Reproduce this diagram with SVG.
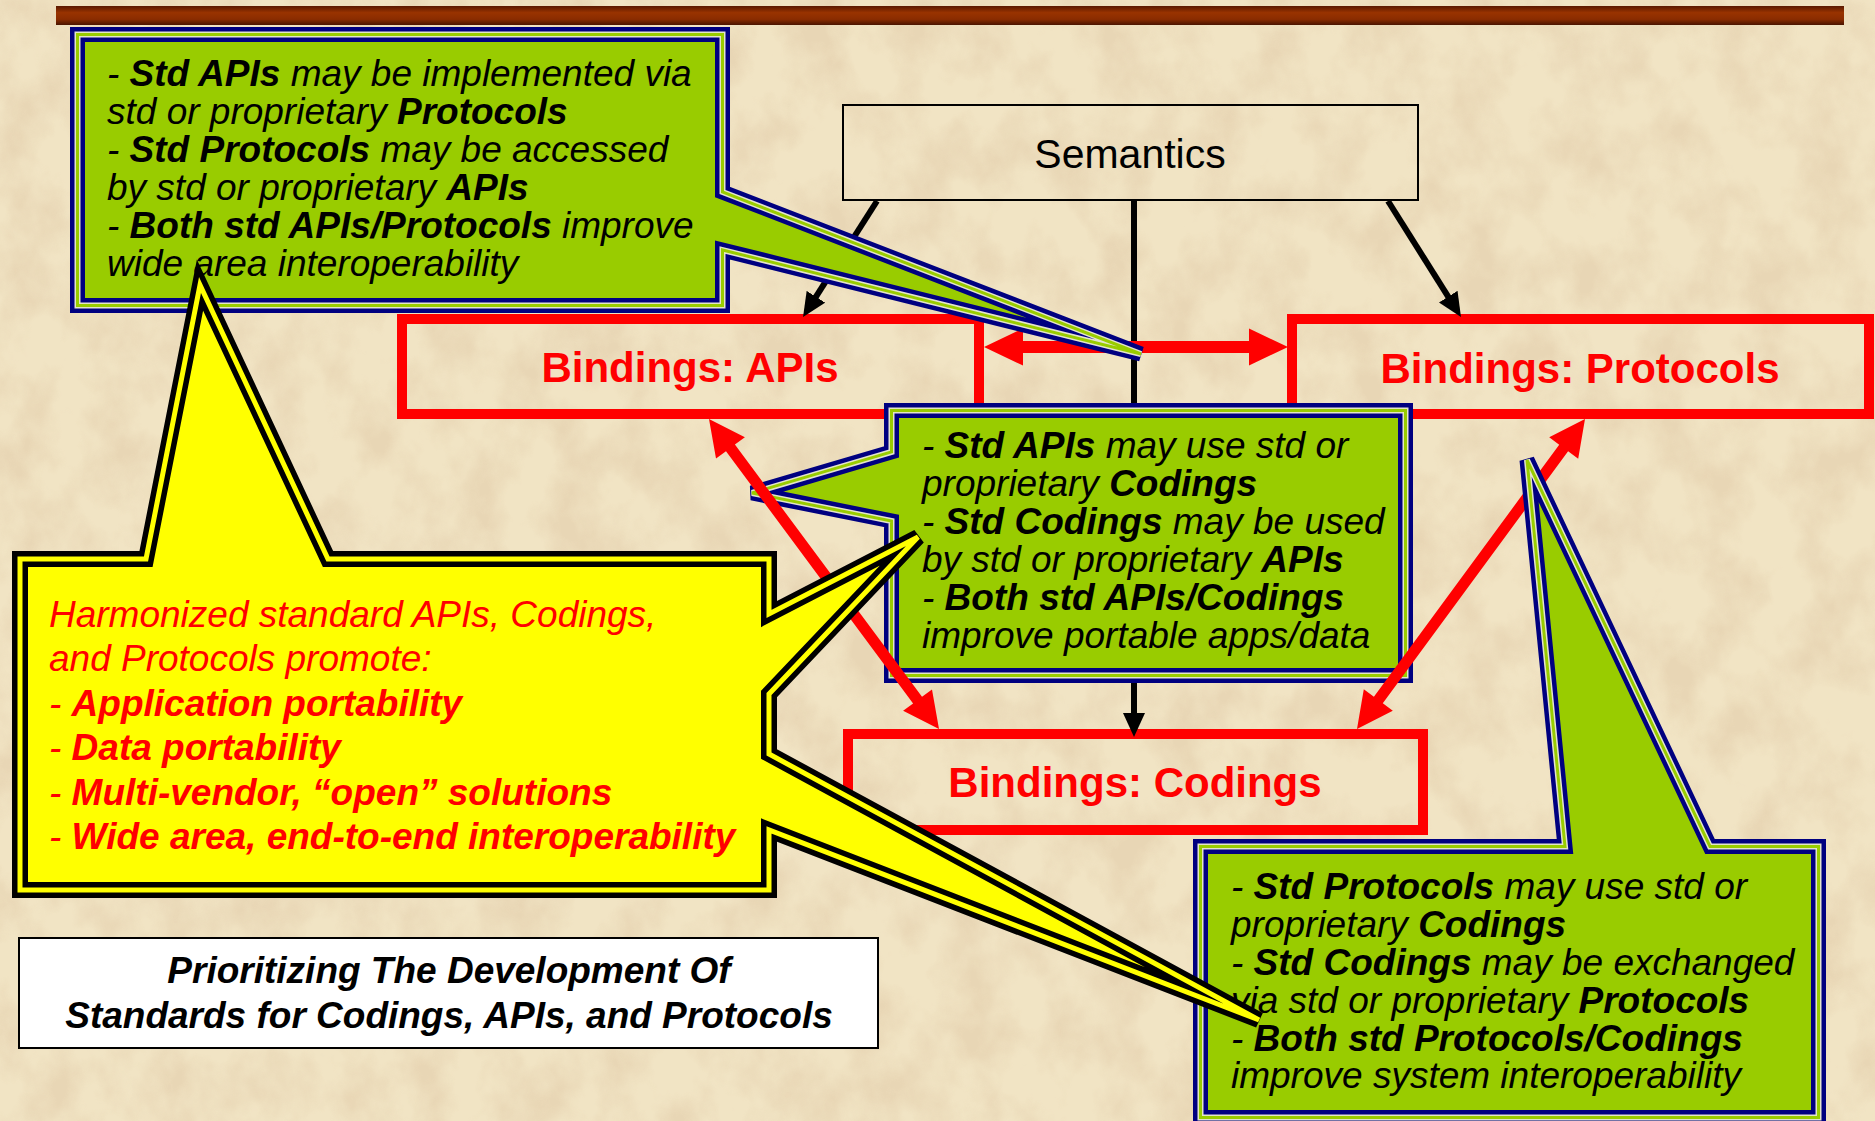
<svg xmlns="http://www.w3.org/2000/svg" width="1875" height="1121" viewBox="0 0 1875 1121">
<defs>
<style>
text{font-family:"Liberation Sans",Arial,sans-serif}
.ct{font-size:37px;font-style:italic;fill:#000}
.b{font-weight:bold}
.yt{font-size:37px;font-style:italic;fill:#FF0000}
.bind{font-size:42px;font-weight:bold;fill:#FF0000;text-anchor:middle}
.title{font-size:37px;font-weight:bold;font-style:italic;fill:#000;text-anchor:middle}
.redbox{fill:none;stroke:#FF0000;stroke-width:10}
.g1{fill:#99CC00;stroke:#000080;stroke-width:15}
.g2{fill:none;stroke:#E4E4CC;stroke-width:6}
.g3{fill:none;stroke:#99CC00;stroke-width:3}
.y1{fill:#FFFF00;stroke:#000;stroke-width:16}
.y2{fill:none;stroke:#FFFF00;stroke-width:5}
.blk{stroke:#000;stroke-width:6;fill:none;marker-end:url(#ah)}
.red{fill:#FF0000}
</style>
<linearGradient id="bar" x1="0" y1="0" x2="0" y2="1">
<stop offset="0" stop-color="#5A1800"/>
<stop offset="0.35" stop-color="#993300"/>
<stop offset="0.7" stop-color="#8A2C00"/>
<stop offset="1" stop-color="#4A1400"/>
</linearGradient>
<filter id="paper" x="0" y="0" width="1" height="1">
<feTurbulence type="fractalNoise" baseFrequency="0.02 0.016" numOctaves="4" seed="7" result="n"/>
<feColorMatrix in="n" type="matrix" values="0 0 0 0 0.80  0 0 0 0 0.66  0 0 0 0 0.45  2.6 0 0 0 -1.0"/>
</filter>
<marker id="ah" markerUnits="userSpaceOnUse" viewBox="0 0 24 22" refX="12" refY="11" markerWidth="24" markerHeight="22" orient="auto">
<path d="M0,0 L24,11 L0,22 Z" fill="#000"/>
</marker>
<path id="pTL" d="M77.5,34.5 H722.5 V192 L1141,354 L722.5,250 V305.5 H77.5 Z"/>
<path id="pC" d="M891.5,410.5 H1405.5 V675.5 H891.5 V521 L752,493 L891.5,452 Z"/>
<path id="pBR" d="M1200.5,846.5 H1565 L1527,460 L1710,846.5 H1818.5 V1117.5 H1200.5 Z"/>
<path id="pY" d="M20,559 H146 L200,285 L328,559 H769 V614 L918,537 L769,694 V754 L1259,1020 L769,830 V890 H20 Z"/>
</defs>

<g id="background">
<rect width="1875" height="1121" fill="#F1E4C4"/>
<rect width="1875" height="1121" filter="url(#paper)" opacity="0.85"/>
<rect x="56" y="6" width="1788" height="19" fill="url(#bar)"/>
</g>

<g id="semantics">
<rect x="843" y="105" width="575" height="95" fill="none" stroke="#000" stroke-width="2"/>
<text x="1130" y="168" font-size="41" text-anchor="middle" fill="#000">Semantics</text>
</g>

<g id="bindings-apis">
<rect class="redbox" x="402" y="319" width="577" height="95"/>
<text class="bind" x="690" y="382">Bindings: APIs</text>
</g>

<g id="bindings-protocols">
<rect class="redbox" x="1292" y="319" width="577" height="95"/>
<text class="bind" x="1580" y="383">Bindings: Protocols</text>
</g>

<g id="bindings-codings">
<rect class="redbox" x="848" y="734" width="575" height="96"/>
<text class="bind" x="1135" y="797">Bindings: Codings</text>
</g>

<g id="callout-apis-codings">
<use href="#pC" class="g1"/>
<use href="#pC" class="g2"/>
<use href="#pC" class="g3"/>
<text class="ct" x="922" y="458">- <tspan class="b">Std APIs</tspan> may use std or</text>
<text class="ct" x="922" y="496">proprietary <tspan class="b">Codings</tspan></text>
<text class="ct" x="922" y="534">- <tspan class="b">Std Codings</tspan> may be used</text>
<text class="ct" x="922" y="572">by std or proprietary <tspan class="b">APIs</tspan></text>
<text class="ct" x="922" y="610">- <tspan class="b">Both std APIs/Codings</tspan></text>
<text class="ct" x="922" y="648">improve portable apps/data</text>
</g>

<g id="connectors">
<line class="blk" x1="877" y1="201" x2="809.5" y2="306.9"/>
<line class="blk" x1="1388" y1="201" x2="1454.6" y2="306.8"/>
<line x1="1134" y1="201" x2="1134" y2="403" stroke="#000" stroke-width="6"/>
<line class="blk" x1="1134" y1="683" x2="1134" y2="725"/>
<polygon class="red" points="984,347 1023,328.5 1023,341 1249,341 1249,328.5 1288,347 1249,365.5 1249,353 1023,353 1023,365.5"/>
<polygon class="red" points="709,419 716,458.6 726,451.2 913.1,703.4 903.1,710.8 939,729 932,689.4 922,696.8 734.9,444.6 744.9,437.2"/>
<polygon class="red" points="1585,419 1549.2,437.3 1559.2,444.7 1373.9,696.7 1363.8,689.3 1357,729 1392.8,710.7 1382.8,703.3 1568.1,451.3 1578.2,458.7"/>
</g>

<g id="callout-apis-protocols">
<use href="#pTL" class="g1"/>
<use href="#pTL" class="g2"/>
<use href="#pTL" class="g3"/>
<text class="ct" x="107" y="86">- <tspan class="b">Std APIs</tspan> may be implemented via</text>
<text class="ct" x="107" y="124">std or proprietary <tspan class="b">Protocols</tspan></text>
<text class="ct" x="107" y="162">- <tspan class="b">Std Protocols</tspan> may be accessed</text>
<text class="ct" x="107" y="200">by std or proprietary <tspan class="b">APIs</tspan></text>
<text class="ct" x="107" y="238">- <tspan class="b">Both std APIs/Protocols</tspan> improve</text>
<text class="ct" x="107" y="276">wide area interoperability</text>
</g>

<g id="callout-protocols-codings">
<use href="#pBR" class="g1"/>
<use href="#pBR" class="g2"/>
<use href="#pBR" class="g3"/>
<text class="ct" x="1231" y="899">- <tspan class="b">Std Protocols</tspan> may use std or</text>
<text class="ct" x="1231" y="937">proprietary <tspan class="b">Codings</tspan></text>
<text class="ct" x="1231" y="975">- <tspan class="b">Std Codings</tspan> may be exchanged</text>
<text class="ct" x="1231" y="1013">via std or proprietary <tspan class="b">Protocols</tspan></text>
<text class="ct" x="1231" y="1051">- <tspan class="b">Both std Protocols/Codings</tspan></text>
<text class="ct" x="1231" y="1088">improve system interoperability</text>
</g>

<g id="callout-harmonized">
<use href="#pY" class="y1"/>
<use href="#pY" class="y2"/>
<text class="yt" x="49" y="627">Harmonized standard APIs, Codings,</text>
<text class="yt" x="49" y="671">and Protocols promote:</text>
<text class="yt" x="49" y="716">- <tspan class="b">Application portability</tspan></text>
<text class="yt" x="49" y="760">- <tspan class="b">Data portability</tspan></text>
<text class="yt" x="49" y="805">- <tspan class="b">Multi-vendor, “open” solutions</tspan></text>
<text class="yt" x="49" y="849">- <tspan class="b">Wide area, end-to-end interoperability</tspan></text>
</g>

<g id="title">
<rect x="19" y="938" width="859" height="110" fill="#FFF" stroke="#000" stroke-width="2"/>
<text class="title" x="449" y="983">Prioritizing The Development Of</text>
<text class="title" x="449" y="1028">Standards for Codings, APIs, and Protocols</text>
</g>
</svg>
